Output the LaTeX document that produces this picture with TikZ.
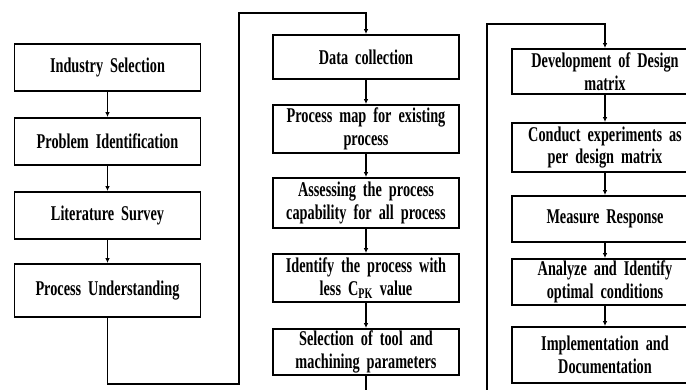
\documentclass[tikz,border=0pt]{standalone}
\usepackage{fontspec}
\setmainfont{Liberation Serif}[FakeStretch=0.68]
\usetikzlibrary{arrows.meta}
\begin{document}
\begin{tikzpicture}[x=1pt,y=-1pt,
  box/.style={draw, line width=1.8pt, inner sep=0pt, align=center,
    minimum width=186pt, text width=182pt,
    font={\fontsize{21}{22.5}\selectfont\bfseries\spaceskip=3.8pt plus 1pt minus 1pt\relax}},
  conn/.style={line width=1.3pt, -{Latex[length=5pt,width=4.5pt]}}]
\path[use as bounding box, clip] (0,0) rectangle (686,389);
\fill[white] (0,0) rectangle (686,389);
% column 1
\node[box, minimum height=47pt] (a1) at (107.5,67.5) {Industry Selection};
\node[box, minimum height=47pt] (a2) at (107.5,141.5) {Problem Identification};
\node[box, minimum height=47pt] (a3) at (107.5,215.5) {Literature Survey};
\node[box, minimum height=53pt] (a4) at (107.5,290.5) {Process Understanding};
% column 2
\node[box, minimum height=44pt] (b1) at (366,57) {Data collection};
\node[box, minimum height=48pt] (b2) at (366,129) {Process map for existing\\process};
\node[box, minimum height=50pt] (b3) at (366,203) {Assessing the process\\capability for all process};
\node[box, minimum height=48pt] (b4) at (366,278) {Identify the process with\\less C\textsubscript{PK} value};
\node[box, minimum height=46pt] (b5) at (366,352) {Selection of tool and\\machining parameters};
% column 3
\node[box, minimum height=45pt] (c1) at (605,71.5) {Development of Design\\matrix};
\node[box, minimum height=49pt] (c2) at (605,147.5) {Conduct experiments as\\per design matrix};
\node[box, minimum height=46pt] (c3) at (605,219) {Measure Response};
\node[box, minimum height=46pt] (c4) at (605,282) {Analyze and Identify\\optimal conditions};
\node[box, minimum height=56pt] (c5) at (605,355) {Implementation and\\Documentation};
% connectors
\draw[conn] (a1) -- (a2);
\draw[conn] (a2) -- (a3);
\draw[conn] (a3) -- (a4);
\draw[conn] (b1) -- (b2);
\draw[conn] (b2) -- (b3);
\draw[conn] (b3) -- (b4);
\draw[conn] (b4) -- (b5);
\draw[conn] (c1) -- (c2);
\draw[conn] (c2) -- (c3);
\draw[conn] (c3) -- (c4);
\draw[conn] (c4) -- (c5);
\draw[conn] (a4.south) |- (239,384) |- (366,13) -- (b1.north);
\draw[conn] (b5.south) -- (366,400) -| (487,24) -| (c1.north);
\end{tikzpicture}
\end{document}
